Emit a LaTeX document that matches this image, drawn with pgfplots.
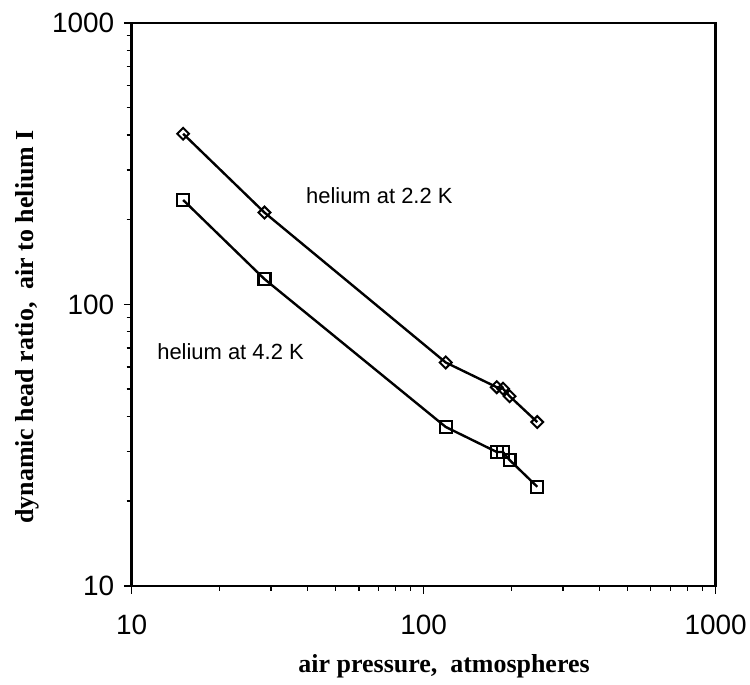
\documentclass[border=0pt]{standalone}
\usepackage{pgfplots}
\pgfplotsset{compat=1.18}
\usepackage{fontspec}
\setmainfont{Liberation Sans}
\newfontfamily\serifbold{Liberation Serif}
\begin{document}
\begin{tikzpicture}
\begin{axis}[
  xmode=log, ymode=log,
  scale only axis,
  width=585pt, height=564pt,
  xmin=10, xmax=1000, ymin=10, ymax=1000,
  axis line style={line width=2.6pt},
  tick align=outside,
  xtick pos=bottom, ytick pos=left,
  major tick length=8pt, minor tick length=5pt,
  every tick/.style={black, line width=1.3pt},
  log ticks with fixed point,
  /pgf/number format/assume math mode=true,
  xtick={10,100,1000}, ytick={10,100,1000},
  xticklabels={10,100,1000}, yticklabels={10,100,1000},
  tick label style={font=\fontsize{28}{30}\selectfont},
  xticklabel style={anchor=center, yshift=-31pt},
  yticklabel style={xshift=-6pt},
  xlabel={\serifbold\bfseries air pressure,\ \ atmospheres},
  ylabel={\serifbold\bfseries dynamic head ratio,\ \ air to helium I},
  label style={font=\fontsize{26}{28}\selectfont},
  xlabel style={at={(rel axis cs:0.535,-0.1436)}, anchor=center},
  ylabel style={at={(rel axis cs:-0.1795,0.46)}, anchor=center},
  clip=false,
]
\addplot[black, line width=2.4pt, mark=square, mark size=4.2pt,
  mark options={rotate=45, line width=2pt, fill=white, solid}]
  coordinates {(15,404) (28.5,212) (119,62.2) (178,50.8) (187,50.2) (197,47.2) (245,38.2)};
\addplot[black, line width=2.4pt, mark=square, mark size=6pt,
  mark options={line width=2.2pt, fill=white, solid}]
  coordinates {(15,235) (28.5,123) (119,36.7) (178,29.9) (187,29.9) (197,28.0) (245,22.5)};
\node[font=\fontsize{22}{24}\selectfont] at (axis cs:70.5,243.5) {helium at 2.2 K};
\node[font=\fontsize{22}{24}\selectfont] at (axis cs:21.8,68.1) {helium at 4.2 K};
\path (rel axis cs:-0.2256,-0.1755) rectangle (rel axis cs:1.0564,1.0408);
\end{axis}
\end{tikzpicture}
\end{document}
